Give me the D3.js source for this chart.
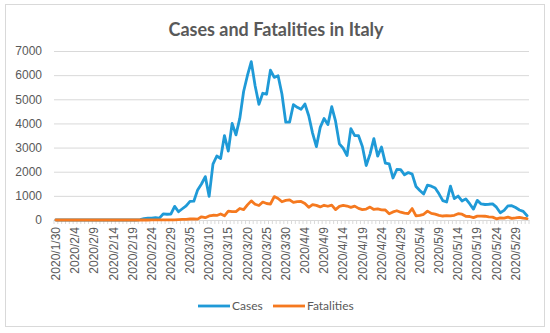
<!DOCTYPE html>
<html>
<head>
<meta charset="utf-8">
<script src="https://cdn.jsdelivr.net/npm/d3@7"></script>
<style>
    body { margin: 0; background: #fff; }
    svg { display: block; font-family: Lato, "Open Sans", sans-serif; }
</style>
</head>
<body>
<svg id="chart" width="550" height="333"></svg>
<script>
// daily values, 2020/1/30 .. 2020/6/1
const startDate = new Date(2020, 0, 30);
const cases = [
    0, 2, 0, 0, 0, 0, 0, 0, 1, 0, 0, 0, 0, 0, 0, 0, 0, 0, 0, 0, 0, 0,
    17, 59, 73, 77, 93, 78, 250, 238, 240,
    566, 342, 466, 587, 769, 778, 1247, 1492, 1797, 977, 2313, 2651, 2547, 3497, 2853,
    4000, 3526, 4207, 5322, 5986, 6557, 5560, 4789, 5249, 5210, 6203, 5909, 5974, 5217, 4050, 4053,
    4782, 4668, 4585, 4805, 4316, 3599, 3039, 3836, 4204, 3951, 4694, 4092, 3153, 2972, 2667,
    3786, 3493, 3491, 3047, 2256, 2729, 3370, 2646, 3021, 2357, 2324, 1739, 2091, 2086, 1872,
    1965, 1900, 1389, 1221, 1075, 1444, 1401, 1327, 1083, 802, 744, 1402, 888, 992, 789,
    875, 675, 451, 813, 665, 642, 652, 669, 531, 300, 397, 584, 593, 516, 416, 355,
    178
];
const fatalities = [
    0, 0, 0, 0, 0, 0, 0, 0, 0, 0, 0, 0, 0, 0, 0, 0, 0, 0, 0, 0, 0, 0,
    1, 1, 1, 4, 3, 2, 5, 4, 8,
    5, 18, 27, 28, 41, 49, 36, 133, 97, 168, 196, 189, 250, 175, 368,
    349, 345, 475, 427, 627, 793, 651, 601, 743, 683, 662, 969, 889, 756, 812, 837,
    727, 760, 766, 681, 525, 636, 604, 542, 610, 570, 619, 431, 566, 602, 578,
    525, 575, 482, 433, 454, 534, 437, 464, 420, 415, 260, 333, 382, 323, 285,
    269, 474, 174, 195, 236, 369, 274, 243, 194, 165, 179, 172, 195, 262, 242,
    153, 145, 99, 162, 161, 156, 130, 119, 50, 92, 78, 117, 70, 87, 111, 75,
    60
];
const seriesNames = ['Cases', 'Fatalities'];
const seriesColors = ['#1f9ad7', '#f5791f'];
const yTicks = [0, 1000, 2000, 3000, 4000, 5000, 6000, 7000];

const dates = cases.map((_, i) => d3.timeDay.offset(startDate, i));
const fmt = d => `${d.getFullYear()}/${d.getMonth() + 1}/${d.getDate()}`;
const labels = dates.map(fmt);

const svg = d3.select('#chart');
const TEXT = '#595959';
const GRID = '#d9d9d9';
const plot = {left: 54, right: 529, top: 51, bottom: 220};

// chart frame
svg.append('rect')
    .attr('x', 5.5).attr('y', 4.5)
    .attr('width', 539).attr('height', 322)
    .attr('fill', '#fff')
    .attr('stroke', GRID);

svg.append('text')
    .attr('x', 276).attr('y', 36)
    .attr('text-anchor', 'middle')
    .attr('font-size', 18).attr('font-weight', 'bold')
    .attr('fill', TEXT)
    .text('Cases and Fatalities in Italy');

const x = d3.scaleBand()
    .domain(labels)
    .range([plot.left, plot.right]);
const y = d3.scaleLinear()
    .domain([0, 7000])
    .range([plot.bottom, plot.top]);

// gridlines + y labels
const yAxis = svg.append('g')
    .attr('transform', `translate(${plot.left},0)`)
    .call(d3.axisLeft(y).tickValues(yTicks).tickFormat(d3.format('d'))
        .tickSize(-(plot.right - plot.left)).tickPadding(12));
yAxis.select('.domain').remove();
yAxis.selectAll('.tick line').attr('stroke', GRID);
yAxis.selectAll('.tick text')
    .attr('fill', TEXT).attr('font-size', 12);

// x axis with small ticks at every category boundary
const xAxis = svg.append('g')
    .attr('transform', `translate(0,${plot.bottom})`)
    .call(d3.axisBottom(x).tickSize(0).tickValues(labels.filter((d, i) => i % 5 === 0)));
xAxis.select('.domain').attr('stroke', GRID);
xAxis.selectAll('.tick text')
    .attr('fill', TEXT).attr('font-size', 12)
    .attr('transform', 'rotate(-90)')
    .attr('text-anchor', 'end')
    .attr('dx', -7).attr('dy', '0.35em')
    .attr('x', 0).attr('y', 0);

svg.append('g')
    .selectAll('line')
    .data(labels.concat(['end']))
    .join('line')
    .attr('x1', (d, i) => plot.left + i * x.step())
    .attr('x2', (d, i) => plot.left + i * x.step())
    .attr('y1', plot.bottom).attr('y2', plot.bottom + 4)
    .attr('stroke', GRID);

// lines
const line = d3.line()
    .x((d, i) => x(labels[i]) + x.bandwidth() / 2)
    .y(d => y(d));

[cases, fatalities].forEach((vals, k) => {
    svg.append('path')
        .datum(vals)
        .attr('fill', 'none')
        .attr('stroke', seriesColors[k])
        .attr('stroke-width', 2.8)
        .attr('stroke-linejoin', 'round')
        .attr('stroke-linecap', 'round')
        .attr('d', line);
});

// legend
const legendX = [198, 273];
const legend = svg.append('g')
    .selectAll('g')
    .data(seriesNames)
    .join('g')
    .attr('transform', (d, i) => `translate(${legendX[i]},306)`);
legend.append('line')
    .attr('x1', 0).attr('x2', 32)
    .attr('stroke', (d, i) => seriesColors[i])
    .attr('stroke-width', 2.8);
legend.append('text')
    .attr('x', 34).attr('dy', '0.35em')
    .attr('font-size', 12).attr('fill', TEXT)
    .text(d => d);
</script>
</body>
</html>
